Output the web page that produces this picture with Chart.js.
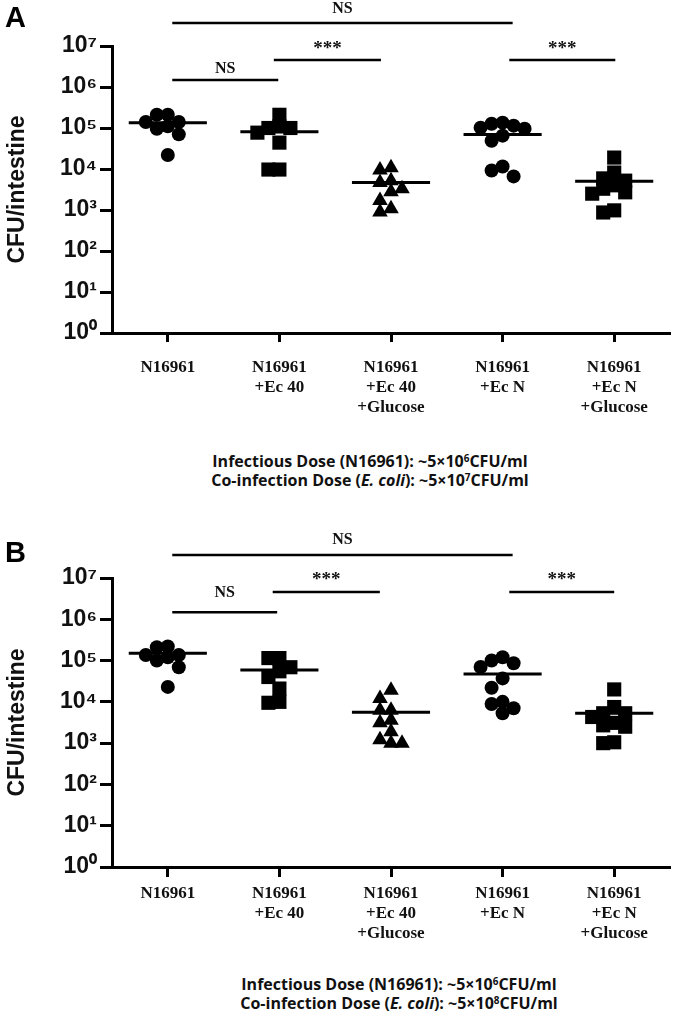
<!DOCTYPE html>
<html>
<head>
<meta charset="utf-8">
<script src="https://cdn.jsdelivr.net/npm/chart.js@4.4.1/dist/chart.umd.min.js"></script>
<style>
html,body{margin:0;padding:0;background:#fff;}
body{width:680px;height:1022px;position:relative;overflow:hidden;}
canvas{position:absolute;left:0;}
.letter{position:absolute;font:bold 29px "Liberation Sans",Arial,sans-serif;line-height:1;color:#000;}
.note{position:absolute;width:680px;text-align:center;font-family:"Open Sans",sans-serif;font-weight:bold;font-size:16px;line-height:18.5px;color:#111;white-space:nowrap;}
.note sup{font-size:0.62em;vertical-align:0.5em;line-height:0;}
</style>
</head>
<body>
<canvas id="chartA" width="680" height="430" style="top:0"></canvas>
<canvas id="chartB" width="680" height="450" style="top:510px"></canvas>
<div class="letter" style="left:5px;top:3px">A</div>
<div class="letter" style="left:5px;top:538px">B</div>
<div class="note" style="left:30px;top:452px">Infectious Dose (N16961): ~5×10<sup>6</sup>CFU/ml<br>Co-infection Dose (<i>E. coli</i>): ~5×10<sup>7</sup>CFU/ml</div>
<div class="note" style="left:59px;top:975px">Infectious Dose (N16961): ~5×10<sup>6</sup>CFU/ml<br>Co-infection Dose (<i>E. coli</i>): ~5×10<sup>8</sup>CFU/ml</div>
<script>
// ---------- DATA ----------
const categories = [
  ['N16961'],
  ['N16961', '+Ec 40'],
  ['N16961', '+Ec 40', '+Glucose'],
  ['N16961', '+Ec N'],
  ['N16961', '+Ec N', '+Glucose']
];
const yTickExponents = [0, 1, 2, 3, 4, 5, 6, 7];

// Panel A: CFU/intestine per animal
const a1 = [2.1e5, 2.1e5, 1.4e5, 1.4e5, 1.1e5, 9.6e4, 7.0e4, 2.2e4];
const a2 = [2.1e5, 1.1e5, 1.0e5, 1.0e5, 7.7e4, 4.4e4, 9.7e3, 9.7e3];
const a3 = [1.07e4, 9.5e3, 5.2e3, 4.7e3, 3.3e3, 2.8e3, 1.7e3, 1.07e3, 8.9e2];
const a4 = [1.35e5, 1.27e5, 1.14e5, 1.02e5, 9.6e4, 6.5e4, 4.9e4, 1.15e4, 9.2e3, 6.6e3];
const a5 = [1.9e4, 8.2e3, 5.9e3, 5.2e3, 4.0e3, 3.3e3, 2.7e3, 2.5e3, 9.8e2, 8.7e2];
const meansA = [1.35e5, 8.1e4, 4.7e3, 6.9e4, 5.0e3];

// Panel B: CFU/intestine per animal
const b1 = [2.2e5, 2.1e5, 1.36e5, 1.36e5, 1.2e5, 1.0e5, 6.9e4, 2.3e4];
const b2 = [1.15e5, 1.15e5, 6.9e4, 5.5e4, 4.0e4, 2.1e4, 1.0e4, 9.5e3];
const b3 = [1.9e4, 1.2e4, 6.3e3, 6.3e3, 3.6e3, 3.1e3, 1.9e3, 1.2e3, 1.0e3, 1.0e3];
const b4 = [1.2e5, 1.0e5, 8.6e4, 7.0e4, 3.7e4, 2.2e4, 1.0e4, 8.9e3, 7.0e3, 5.3e3];
const b5 = [2.0e4, 7.5e3, 5.3e3, 5.3e3, 4.3e3, 3.1e3, 2.7e3, 2.5e3, 1.05e3, 1.0e3];
const meansB = [1.5e5, 5.9e4, 5.6e3, 4.7e4, 5.3e3];

// Significance comparisons (group indices)
const bracketFrom = [0, 0, 1, 3];
const bracketTo = [3, 1, 2, 4];
const bracketLabels = ['NS', 'NS', '***', '***'];

// ---------- RENDERING ----------
const SUP = ['\u2070', '\u00B9', '\u00B2', '\u00B3', '\u2074', '\u2075', '\u2076', '\u2077', '\u2078', '\u2079'];
const SHAPES = ['circle', 'rect', 'triangle', 'circle', 'rect'];
const RADII = { circle: 7, rect: 10, triangle: 9 };
const MEAN_HALF = 0.35;

const bracketPlugin = {
  id: 'brackets',
  afterDatasetsDraw(chart, args, opts) {
    const { ctx } = chart;
    const xs = chart.scales.x, ys = chart.scales.y;
    ctx.save();
    ctx.strokeStyle = '#000';
    ctx.fillStyle = '#111';
    ctx.lineWidth = 2.5;
    ctx.textAlign = 'center';
    ctx.textBaseline = 'middle';
    bracketLabels.forEach((lab, i) => {
      const x1 = xs.getPixelForValue(bracketFrom[i] + opts.ends[i][0]);
      const x2 = xs.getPixelForValue(bracketTo[i] + opts.ends[i][1]);
      const yy = ys.getPixelForValue(Math.pow(10, opts.levels[i]));
      ctx.beginPath();
      ctx.moveTo(x1, yy);
      ctx.lineTo(x2, yy);
      ctx.stroke();
      ctx.font = lab === 'NS' ? 'bold 16px "Liberation Serif"' : 'bold 19px "Liberation Serif"';
      ctx.fillText(lab, (x1 + x2) / 2, yy - opts.gaps[i]);
    });
    ctx.restore();
  }
};

function meanLineData(means) {
  const d = [];
  means.forEach((m, i) => {
    d.push({ x: i - MEAN_HALF, y: m }, { x: i + MEAN_HALF, y: m }, { x: i, y: null });
  });
  return d;
}

// simple beeswarm: spread replicate points sideways so they don't sit on top of each other
function swarm(chart, values, groupIndex) {
  const xs = chart.scales.x, ys = chart.scales.y;
  const unit = xs.getPixelForValue(1) - xs.getPixelForValue(0);
  const step = 11, minD = 10;
  const order = values.map((v, i) => i).sort((p, q) => values[q] - values[p]);
  const placed = [];
  const out = new Array(values.length);
  for (const i of order) {
    const py = ys.getPixelForValue(values[i]);
    for (let k = 0; k < 40; k++) {
      const off = (k === 0 ? 0 : (k % 2 ? -1 : 1) * Math.ceil(k / 2)) * step;
      if (placed.every(p => Math.hypot(p.x - off, p.y - py) >= minD)) {
        placed.push({ x: off, y: py });
        out[i] = groupIndex + off / unit;
        break;
      }
    }
  }
  return values.map((v, i) => ({ x: out[i], y: v }));
}

function makeChart(id, groups, means, cfg) {
  const canvas = document.getElementById(id);
  const H = canvas.height;
  const datasets = [{
    type: 'line',
    data: meanLineData(means),
    borderColor: '#000',
    borderWidth: 3,
    pointRadius: 0,
    showLine: true,
    spanGaps: false,
    fill: false
  }];
  groups.forEach((vals, gi) => {
    datasets.push({
      data: vals.map(v => ({ x: gi, y: v })),
      pointStyle: SHAPES[gi],
      pointRadius: RADII[SHAPES[gi]],
      backgroundColor: '#000',
      borderColor: '#000',
      borderWidth: 0,
      showLine: false
    });
  });
  const chart = new Chart(canvas, {
    type: 'scatter',
    data: { datasets },
    plugins: [bracketPlugin],
    options: {
      responsive: false,
      animation: false,
      devicePixelRatio: 1,
      events: [],
      layout: { padding: { top: cfg.top, right: 4, left: 0, bottom: 0 } },
      plugins: {
        legend: { display: false },
        tooltip: { enabled: false },
        brackets: cfg.brackets
      },
      scales: {
        x: {
          type: 'linear',
          min: -0.5,
          max: 4.5,
          afterBuildTicks: axis => { axis.ticks = categories.map((c, i) => ({ value: i })); },
          afterFit: axis => { axis.height = H - cfg.bottom; axis.paddingLeft = 0; axis.paddingRight = 0; },
          ticks: {
            autoSkip: false,
            maxRotation: 0,
            minRotation: 0,
            padding: cfg.labelPad,
            color: '#111',
            font: { family: '"Liberation Serif"', size: 17, weight: 'bold', lineHeight: cfg.lineHeight },
            callback: v => categories[v]
          },
          grid: { display: true, drawOnChartArea: false, drawTicks: true, tickLength: cfg.xTick, tickWidth: 3, tickColor: '#000' },
          border: { display: true, color: '#000', width: 3 }
        },
        y: {
          type: 'logarithmic',
          min: 1,
          max: 1e7,
          afterBuildTicks: axis => { axis.ticks = yTickExponents.map(e => ({ value: Math.pow(10, e) })); },
          afterFit: axis => { axis.width = 112; axis.paddingTop = 0; axis.paddingBottom = 0; },
          ticks: {
            padding: 3,
            color: '#111',
            font: { family: '"Liberation Sans"', size: 23, weight: 'bold' },
            callback: v => '10' + SUP[Math.round(Math.log10(v))]
          },
          grid: { display: true, drawOnChartArea: false, drawTicks: true, tickLength: 12, tickWidth: 3, tickColor: '#000' },
          border: { display: true, color: '#000', width: 3 },
          title: {
            display: true,
            text: 'CFU/intestine',
            color: '#111',
            padding: { top: 4, bottom: 0 },
            font: { family: '"Liberation Sans"', size: 23, weight: 'bold' }
          }
        }
      }
    }
  });
  groups.forEach((vals, gi) => {
    chart.data.datasets[gi + 1].data = swarm(chart, vals, gi);
  });
  chart.update('none');
  return chart;
}

makeChart('chartA', [a1, a2, a3, a4, a5], meansA, {
  top: 46, bottom: 333, labelPad: 15, lineHeight: 1.2, xTick: 9,
  brackets: {
    levels: [7.56, 6.17, 6.66, 6.66],
    ends: [[0.04, 0.09], [0.04, -0.01], [-0.05, -0.09], [0.06, 0.01]],
    gaps: [14, 11, 11, 11]
  }
});
makeChart('chartB', [b1, b2, b3, b4, b5], meansB, {
  top: 68, bottom: 357, labelPad: 6, lineHeight: 1.2, xTick: 10,
  brackets: {
    levels: [7.56, 6.17, 6.66, 6.66],
    ends: [[0.04, 0.09], [0.04, -0.02], [-0.06, -0.1], [0.06, 0.0]],
    gaps: [15, 19, 12, 12]
  }
});
</script>
</body>
</html>
